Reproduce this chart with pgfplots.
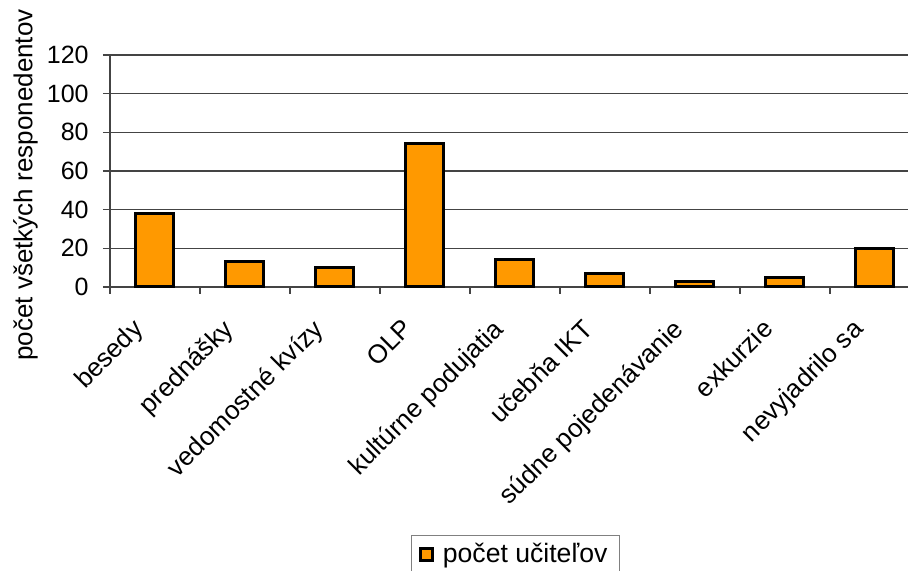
\documentclass[border=0pt]{standalone}
\usepackage{fontspec}
\setmainfont{Liberation Sans}
\usepackage{pgfplots}
\pgfplotsset{compat=1.18}
\definecolor{barorange}{HTML}{FF9900}
\definecolor{gridgray}{HTML}{444444}
\begin{document}
\begin{tikzpicture}
\begin{axis}[
    scale only axis,
    width=399pt,
    height=116pt,
    ybar,
    bar width=19pt,
    xmin=-0.5, xmax=8.367,
    ymin=0, ymax=120,
    ytick={0,20,...,120},
    xtick={0,...,8},
    xticklabels={besedy,prednášky,vedomostné kvízy,OLP,kultúrne podujatia,učebňa IKT,súdne pojedenávanie,exkurzie,nevyjadrilo sa},
    minor xtick={-0.5,0.5,...,7.5},
    major x tick style={draw=none},
    minor tick length=3.5pt,
    major tick length=3.5pt,
    tick align=outside,
    tick style={gridgray, line width=0.6pt},
    axis x line*=bottom,
    axis y line*=left,
    axis line style={gridgray, line width=0.6pt},
    ymajorgrids,
    major grid style={gridgray, line width=0.6pt},
    font=\fontsize{13}{15}\selectfont,
    /pgf/number format/assume math mode=true,
    xticklabel style={xshift=-12pt, yshift=-10pt, rotate=45, anchor=north east, inner sep=1pt},
    yticklabel style={font=\fontsize{12.5}{15}\selectfont, inner sep=1pt, xshift=-6pt},
    ylabel={počet všetkých responedentov},
    ylabel style={font=\fontsize{13}{15}\selectfont, at={(ticklabel cs:0.44)}, yshift=0pt},
    legend style={at={(0.508,-1.069)}, anchor=north, draw=gray, line width=0.6pt,
        font=\fontsize{13.3}{15}\selectfont, inner xsep=4pt, inner ysep=2pt},
    legend image code/.code={\draw[fill=barorange, draw=black, line width=1.5pt] (0pt,-3pt) rectangle (6pt,3pt);
        \path[draw=none, fill=none] (9pt,0pt);},
    clip=false,
]
\addplot[fill=barorange, draw=black, line width=1.5pt] coordinates {
    (0,38) (1,13) (2,10) (3,74) (4,14) (5,7) (6,3) (7,5) (8,20)
};
\addlegendentry{počet učiteľov}
\end{axis}
\pgfresetboundingbox
\path (-55pt,-142pt) rectangle (399pt,143.5pt);
\end{tikzpicture}
\end{document}
